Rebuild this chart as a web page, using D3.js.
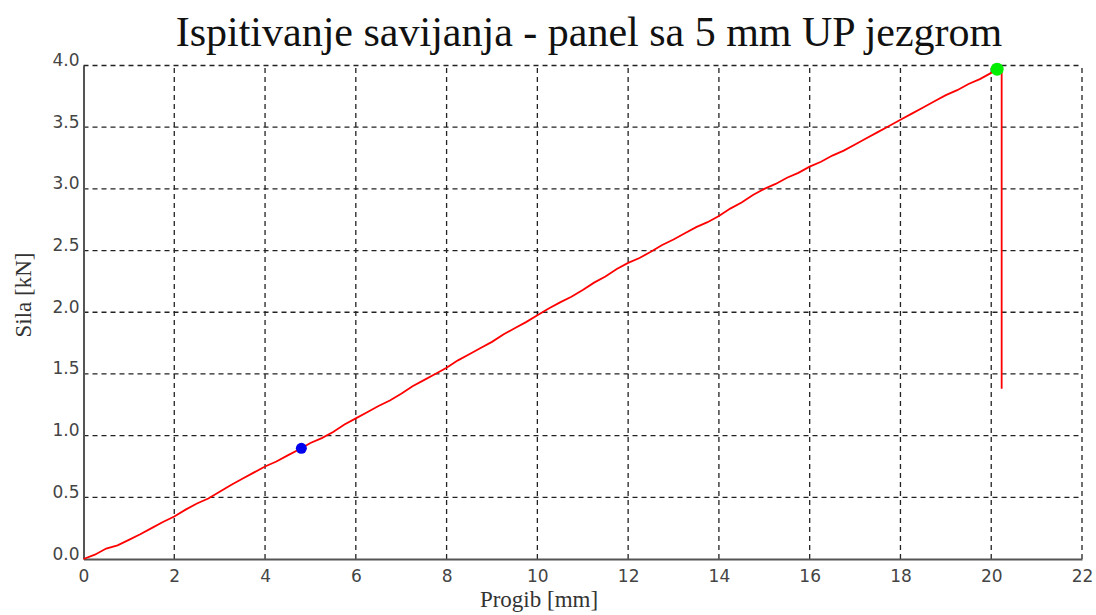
<!DOCTYPE html>
<meta charset="utf-8">
<script src="https://d3js.org/d3.v7.min.js"></script>
<style>
  body { margin: 0; background: #fff; }
</style>
<div id="chart"></div>
<script>

// deflection [mm] and force [kN]
var progib = [0, 0.25, 0.5, 0.75, 1, 1.25, 1.5, 1.75, 2, 2.25, 2.5, 2.75, 3, 3.25, 3.5, 3.75, 4, 4.25, 4.5, 4.8,
  5, 5.25, 5.5, 5.75, 6, 6.25, 6.5, 6.75, 7, 7.25, 7.5, 7.75, 8, 8.25, 8.5, 8.75, 9, 9.25, 9.5, 9.75,
  10, 10.25, 10.5, 10.75, 11, 11.25, 11.5, 11.75, 12, 12.25, 12.5, 12.75, 13, 13.25, 13.5, 13.75, 14,
  14.25, 14.5, 14.75, 15, 15.25, 15.5, 15.75, 16, 16.25, 16.5, 16.75, 17, 17.25, 17.5, 17.75, 18,
  18.25, 18.5, 18.75, 19, 19.25, 19.5, 19.75, 20, 20.13, 20.23, 20.23];
var sila = [0, 0.035, 0.085, 0.11, 0.155, 0.2, 0.25, 0.3, 0.345, 0.4, 0.45, 0.49, 0.545, 0.6, 0.65, 0.7, 0.75, 0.79, 0.84, 0.897,
  0.94, 0.98, 1.03, 1.09, 1.14, 1.19, 1.24, 1.285, 1.34, 1.4, 1.45, 1.5, 1.55, 1.61, 1.66, 1.71, 1.76, 1.82, 1.87, 1.92,
  1.975, 2.03, 2.08, 2.125, 2.18, 2.24, 2.29, 2.35, 2.40, 2.44, 2.49, 2.545, 2.59, 2.64, 2.69, 2.73, 2.78,
  2.84, 2.89, 2.95, 3.0, 3.04, 3.09, 3.13, 3.18, 3.22, 3.27, 3.31, 3.36, 3.41, 3.46, 3.51, 3.56,
  3.61, 3.66, 3.71, 3.76, 3.8, 3.85, 3.89, 3.94, 3.97, 3.95, 1.38];

// marked points: start of evaluation range and maximum force
var tackaX = [4.8, 20.13];
var tackaY = [0.897, 3.97];
var tackaBoja = ["#0000ee", "#00ee00"];

var xTicks = [0, 2, 4, 6, 8, 10, 12, 14, 16, 18, 20, 22];
var yTicks = [0, 0.5, 1, 1.5, 2, 2.5, 3, 3.5, 4];

var width = 1096, height = 615;
var x = d3.scaleLinear().domain([0, 22]).range([83.5, 1082]);
var y = d3.scaleLinear().domain([0, 4]).range([559, 65.5]);

var svg = d3.select("#chart").append("svg")
  .attr("width", width)
  .attr("height", height);

// grid
svg.append("g").selectAll("line")
  .data(xTicks.slice(1))
  .join("line")
    .attr("x1", d => x(d)).attr("x2", d => x(d))
    .attr("y1", y(0)).attr("y2", y(4))
    .attr("stroke", "#222").attr("stroke-width", 1.3)
    .attr("stroke-dasharray", "5,4");
svg.append("g").selectAll("line")
  .data(yTicks.slice(1))
  .join("line")
    .attr("x1", x(0)).attr("x2", x(22))
    .attr("y1", d => y(d)).attr("y2", d => y(d))
    .attr("stroke", "#222").attr("stroke-width", 1.3)
    .attr("stroke-dasharray", "5,4");

// axes
var xAxis = svg.append("g")
  .attr("transform", "translate(0," + y(0) + ")")
  .call(d3.axisBottom(x).tickValues(xTicks).tickSize(0).tickPadding(11).tickFormat(d3.format("d")));
var yAxis = svg.append("g")
  .attr("transform", "translate(" + x(0) + ",0)")
  .call(d3.axisLeft(y).tickValues(yTicks).tickSize(0).tickPadding(4).tickFormat(d3.format(".1f")));
[xAxis, yAxis].forEach(function(a) {
  a.select(".domain").attr("stroke", "#555").attr("stroke-width", 2);
  a.selectAll("text")
    .attr("font-family", "DejaVu Sans, sans-serif")
    .attr("font-size", 17)
    .attr("fill", "#444");
});
yAxis.selectAll("text").attr("dy", "0").attr("y", 0);

// curve
svg.append("path")
  .datum(d3.range(progib.length))
  .attr("fill", "none")
  .attr("stroke", "#ff0000")
  .attr("stroke-width", 1.8)
  .attr("d", d3.line().x(i => x(progib[i])).y(i => y(sila[i])));

svg.append("g").selectAll("circle")
  .data(tackaX)
  .join("circle")
    .attr("cx", d => x(d))
    .attr("cy", (d, i) => y(tackaY[i]))
    .attr("r", (d, i) => i == 1 ? 6.5 : 5.5)
    .attr("fill", (d, i) => tackaBoja[i]);

// titles
svg.append("text")
  .attr("x", 589).attr("y", 46)
  .attr("text-anchor", "middle")
  .attr("font-family", "Liberation Serif, serif")
  .attr("font-size", 42)
  .attr("fill", "#111")
  .text("Ispitivanje savijanja - panel sa 5 mm UP jezgrom");

svg.append("text")
  .attr("x", 539).attr("y", 607)
  .attr("text-anchor", "middle")
  .attr("font-family", "Liberation Serif, serif")
  .attr("font-size", 23)
  .attr("fill", "#333")
  .text("Progib [mm]");

svg.append("text")
  .attr("transform", "translate(31,295) rotate(-90)")
  .attr("text-anchor", "middle")
  .attr("font-family", "Liberation Serif, serif")
  .attr("font-size", 23)
  .attr("fill", "#333")
  .text("Sila [kN]");

</script>
